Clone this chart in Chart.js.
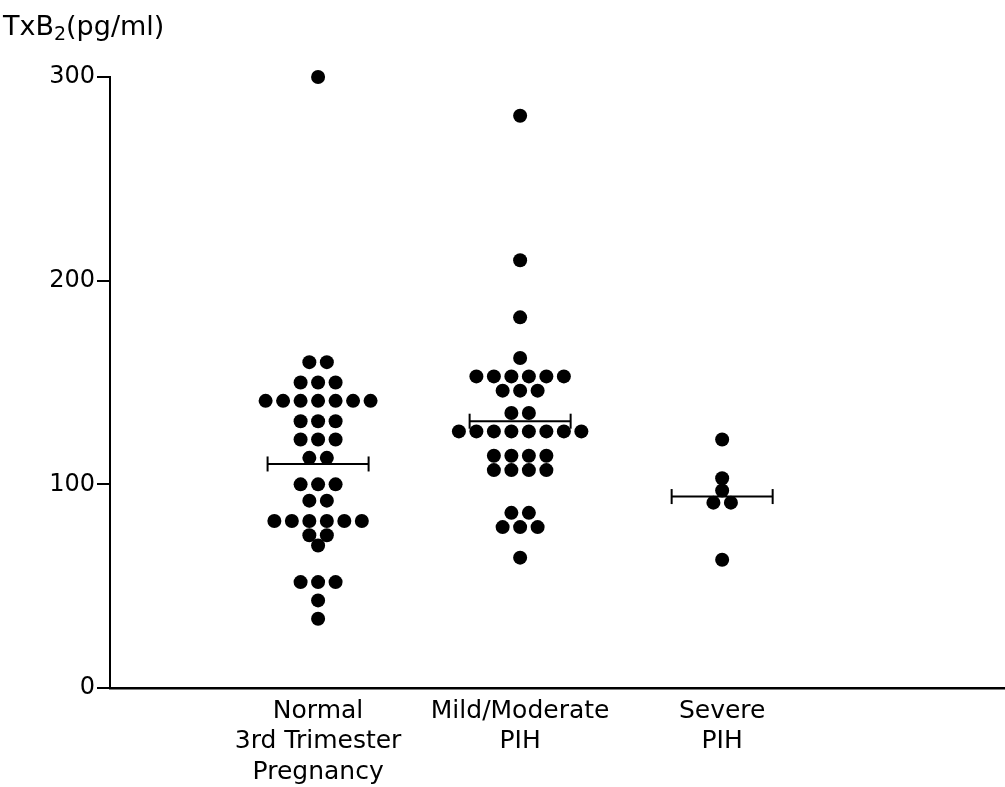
<!DOCTYPE html>
<html>
<head>
<meta charset="utf-8">
<script src="https://cdn.jsdelivr.net/npm/chart.js@4/dist/chart.umd.min.js"></script>
<style>
  html, body { margin: 0; padding: 0; background: #fff; }
  #wrap { width: 1005px; height: 787px; }
</style>
</head>
<body>
<div id="wrap"><canvas id="txbChart" width="1005" height="787"></canvas></div>
<script>
// categories along the x axis (multi-line labels)
const categories = [
    ['Normal', '3rd Trimester', 'Pregnancy'],
    ['Mild/Moderate', 'PIH'],
    ['Severe', 'PIH']
];

// TxB2 values (pg/ml)
const normalValues = [300, 160, 160, 150, 150, 150,
    141, 141, 141, 141, 141, 141, 141,
    131, 131, 131, 122, 122, 122, 113, 113,
    100, 100, 100, 92, 92,
    82, 82, 82, 82, 82, 82, 75, 75, 70,
    52, 52, 52, 43, 34];
const mildValues = [281, 210, 182, 162,
    153, 153, 153, 153, 153, 153, 146, 146, 146, 135, 135,
    126, 126, 126, 126, 126, 126, 126, 126,
    114, 114, 114, 114, 107, 107, 107, 107,
    86, 86, 79, 79, 79, 64];
const severeValues = [122, 103, 97, 91, 91, 63];

// group means (horizontal bars)
const meanValues = [110, 131, 94];

const yTicks = [0, 100, 200, 300];

const groups = [normalValues, mildValues, severeValues];

// spread equal values side by side, like the original dot plot
const dotGap = 0.0866;
function swarm(values, center) {
    const counts = {};
    values.forEach(v => { counts[v] = (counts[v] || 0) + 1; });
    const seen = {};
    return values.map(v => {
        const k = seen[v] || 0;
        seen[v] = k + 1;
        return { x: center + (k - (counts[v] - 1) / 2) * dotGap, y: v };
    });
}

const barHalf = 0.25;
const datasets = [];
groups.forEach((vals, i) => {
    datasets.push({
        type: 'scatter',
        data: swarm(vals, i + 1),
        backgroundColor: '#000',
        borderWidth: 0,
        pointRadius: 7,
        pointHoverRadius: 7,
        clip: false
    });
});
meanValues.forEach((m, i) => {
    datasets.push({
        type: 'line',
        data: [{ x: i + 1 - barHalf, y: m }, { x: i + 1 + barHalf, y: m }],
        borderColor: '#000',
        borderWidth: 2,
        pointStyle: 'line',
        pointRotation: 90,
        pointRadius: 7.5,
        pointBorderWidth: 2,
        pointBorderColor: '#000',
        fill: false,
        clip: false
    });
});

// y axis title with subscript 2
const titlePlugin = {
    id: 'yTitle',
    afterDraw(chart) {
        const ctx = chart.ctx;
        ctx.save();
        ctx.fillStyle = '#000';
        ctx.textBaseline = 'alphabetic';
        ctx.font = '27px "DejaVu Sans"';
        let x = 3;
        ctx.fillText('TxB', x, 35);
        x += ctx.measureText('TxB').width;
        ctx.font = '19px "DejaVu Sans"';
        ctx.fillText('2', x, 40);
        x += ctx.measureText('2').width;
        ctx.font = '27px "DejaVu Sans"';
        ctx.fillText('(pg/ml)', x, 35);
        ctx.restore();
    }
};

const ctx = document.getElementById('txbChart').getContext('2d');
new Chart(ctx, {
    type: 'scatter',
    data: { datasets: datasets },
    plugins: [titlePlugin],
    options: {
        responsive: false,
        animation: false,
        layout: { autoPadding: false, padding: { top: 77, left: 0, right: 0, bottom: 0 } },
        plugins: {
            legend: { display: false },
            tooltip: { enabled: false }
        },
        scales: {
            x: {
                type: 'linear',
                min: -0.03,
                max: 4.4,
                afterBuildTicks: axis => { axis.ticks = [1, 2, 3].map(v => ({ value: v })); },
                afterFit: axis => { axis.height = 99; },
                grid: { display: false, drawTicks: false },
                border: { display: true, color: '#000', width: 2.5 },
                ticks: {
                    color: '#000',
                    padding: 8,
                    maxRotation: 0,
                    autoSkip: false,
                    font: { family: 'DejaVu Sans', size: 25, lineHeight: 1.22 },
                    callback: v => categories[v - 1]
                }
            },
            y: {
                min: 0,
                max: 300,
                afterBuildTicks: axis => { axis.ticks = yTicks.map(v => ({ value: v })); },
                afterFit: axis => { axis.width = 110; },
                grid: { drawOnChartArea: false, drawTicks: true, tickLength: 13, color: '#000', lineWidth: 2 },
                border: { display: true, color: '#000', width: 2 },
                ticks: {
                    color: '#000',
                    padding: 2,
                    font: { family: 'DejaVu Sans', size: 24 }
                }
            }
        }
    }
});
</script>
</body>
</html>
